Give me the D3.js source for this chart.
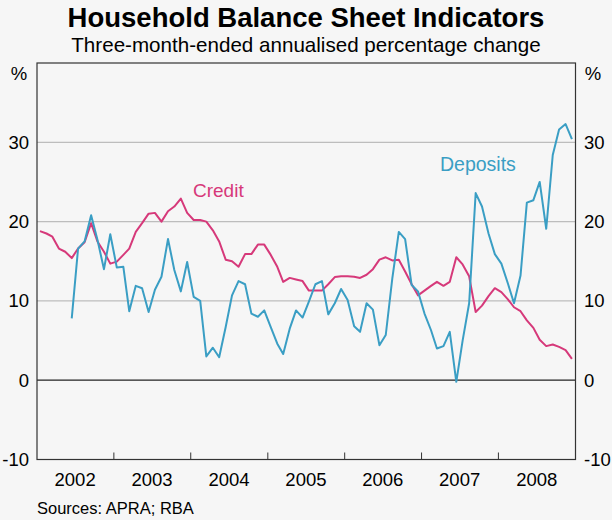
<!DOCTYPE html>
<html>
<head>
<meta charset="utf-8">
<script src="https://cdn.jsdelivr.net/npm/d3@7"></script>
<style>
  body { margin: 0; background: #f6f6f6; }
  text { font-family: Arial, "Liberation Sans", sans-serif; fill: #000; }
</style>
</head>
<body>
<div id="chart"></div>
<script>
const width = 612,
  height = 520;

// monthly observations, Jan 2002 - Dec 2008
const startYear = 2002;
const credit = [
  18.8, 18.5, 18.1, 16.6, 16.2, 15.4, 16.6, 17.4, 19.8, 17.5, 16.2, 14.7,
  14.95, 15.8, 16.6, 18.7, 19.8, 21.0, 21.1, 20.0, 21.3, 21.9, 22.9, 21.1,
  20.2, 20.2, 20.0, 18.9, 17.5, 15.2, 15.0, 14.3, 15.9, 15.9, 17.1, 17.1,
  15.8, 14.3, 12.4, 12.9, 12.7, 12.5, 11.3, 11.3, 11.3, 12.1, 13.0, 13.1,
  13.1, 13.05, 12.9, 13.3, 14.0, 15.2, 15.5, 15.1, 15.2, 13.7, 12.1, 10.7,
  11.3, 11.9, 12.4, 11.9, 12.4, 15.5, 14.6, 13.1, 8.6, 9.4, 10.6, 11.6,
  11.1, 10.2, 9.2, 8.7, 7.55, 6.6, 5.1, 4.3, 4.5, 4.2, 3.8, 2.7
];
const deposits = [
  null, null, null, null, null, 7.8, 16.6, 17.5, 20.8, 17.7, 14.0, 18.4,
  14.2, 14.3, 8.7, 11.9, 11.6, 8.6, 11.4, 13.05, 17.8, 13.9, 11.2, 14.9,
  10.5, 10.0, 3.0, 4.1, 2.9, 6.7, 10.7, 12.5, 12.1, 8.4, 8.0, 8.8,
  6.7, 4.6, 3.3, 6.5, 8.8, 7.9, 9.9, 12.1, 12.5, 8.3, 9.7, 11.5,
  10.1, 6.8, 6.1, 9.7, 8.9, 4.4, 5.7, 12.8, 18.7, 17.8, 12.0, 11.2,
  8.4, 6.3, 4.0, 4.3, 6.1, -0.2, 5.0, 9.7, 23.6, 21.9, 18.5, 15.9,
  14.7, 12.2, 9.7, 13.2, 22.4, 22.7, 25.0, 19.1, 28.4, 31.6, 32.3, 30.4
];
const years = [2002, 2003, 2004, 2005, 2006, 2007, 2008];
const yTicks = [-10, 0, 10, 20, 30];

const plotL = 37, plotR = 575.5, plotT = 63, plotB = 459.5;

const svg = d3
  .select("#chart")
  .append("svg")
  .attr("width", width)
  .attr("height", height);

const x = d3
  .scaleTime()
  .domain([new Date(2002, 0, 1), new Date(2009, 0, 1)])
  .range([plotL, plotR]);
const y = d3.scaleLinear().domain([-10, 40]).range([plotB, plotT]);

// title
svg.append("text")
  .attr("x", width / 2).attr("y", 27)
  .attr("text-anchor", "middle")
  .style("font-size", "27.5px").style("font-weight", "bold")
  .text("Household Balance Sheet Indicators");
svg.append("text")
  .attr("x", width / 2).attr("y", 51.5)
  .attr("text-anchor", "middle")
  .style("font-size", "20.6px")
  .text("Three-month-ended annualised percentage change");

// grid
svg.selectAll(".grid")
  .data(yTicks.filter(d => d > 0))
  .enter()
  .append("line")
  .attr("x1", plotL).attr("x2", plotR)
  .attr("y1", d => y(d)).attr("y2", d => y(d))
  .attr("stroke", "#bdbdbd").attr("stroke-width", 1.2);

// y labels both sides
svg.selectAll(".yl")
  .data(yTicks)
  .enter()
  .append("text")
  .attr("x", 29).attr("y", d => y(d) + 6.5)
  .attr("text-anchor", "end")
  .style("font-size", "18.5px")
  .text(d => d);
svg.selectAll(".yr")
  .data(yTicks)
  .enter()
  .append("text")
  .attr("x", 584).attr("y", d => y(d) + 6.5)
  .attr("text-anchor", "start")
  .style("font-size", "18.5px")
  .text(d => d);
svg.append("text").attr("x", 19).attr("y", 80).attr("text-anchor", "middle")
  .style("font-size", "18.5px").text("%");
svg.append("text").attr("x", 593).attr("y", 80).attr("text-anchor", "middle")
  .style("font-size", "18.5px").text("%");

// year ticks and labels
svg.selectAll(".xt")
  .data(years.slice(1))
  .enter()
  .append("line")
  .attr("x1", d => x(new Date(d, 0, 1))).attr("x2", d => x(new Date(d, 0, 1)))
  .attr("y1", plotB).attr("y2", plotB - 7)
  .attr("stroke", "#333").attr("stroke-width", 1);
svg.selectAll(".xl")
  .data(years)
  .enter()
  .append("text")
  .attr("x", d => x(new Date(d, 6, 1)))
  .attr("y", 486)
  .attr("text-anchor", "middle")
  .style("font-size", "18.5px")
  .text(d => d);

// zero line
svg.append("line")
  .attr("x1", plotL).attr("x2", plotR)
  .attr("y1", y(0)).attr("y2", y(0))
  .attr("stroke", "#222").attr("stroke-width", 1.2);

// frame
svg.append("rect")
  .attr("x", plotL).attr("y", plotT)
  .attr("width", plotR - plotL).attr("height", plotB - plotT)
  .attr("fill", "none").attr("stroke", "#333").attr("stroke-width", 1.2);

const line = d3
  .line()
  .defined(d => d != null)
  .x((d, i) => x(new Date(startYear, i, 15)))
  .y(d => y(d));

svg.append("path")
  .datum(credit)
  .attr("d", line)
  .attr("fill", "none")
  .attr("stroke", "#d6397a")
  .attr("stroke-width", 2)
  .attr("stroke-linejoin", "round");

svg.append("path")
  .datum(deposits)
  .attr("d", line)
  .attr("fill", "none")
  .attr("stroke", "#3a9ec4")
  .attr("stroke-width", 2)
  .attr("stroke-linejoin", "round");

svg.append("text")
  .attr("x", 193).attr("y", 197)
  .style("font-size", "19px")
  .style("fill", "#d6397a")
  .text("Credit");
svg.append("text")
  .attr("x", 440).attr("y", 171)
  .style("font-size", "19.5px")
  .style("fill", "#3a9ec4")
  .text("Deposits");

svg.append("text")
  .attr("x", 37).attr("y", 514)
  .style("font-size", "16.5px")
  .text("Sources: APRA; RBA");
</script>
</body>
</html>
